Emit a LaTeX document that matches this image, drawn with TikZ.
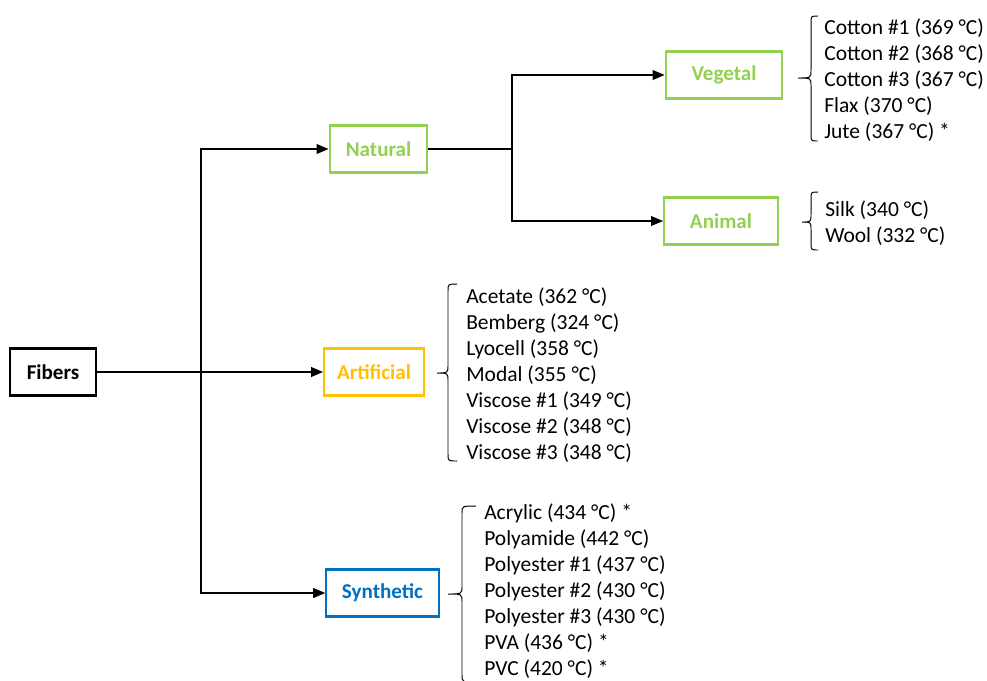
\documentclass[tikz,border=0pt]{standalone}
\usepackage{fontspec}
\setmainfont{Carlito}
\usetikzlibrary{arrows.meta}
\definecolor{natgreen}{RGB}{146,208,80}
\definecolor{artgold}{RGB}{255,192,0}
\definecolor{synblue}{RGB}{0,112,192}
% left brace: x, tip x, end x, top, middle, bottom
\newcommand{\fbrace}[6]{\draw[line width=0.7pt] (#3,#4) .. controls (#1,#4) .. (#1,#4+7) -- (#1,#5-8) .. controls (#1,#5) .. (#2,#5) .. controls (#1,#5) .. (#1,#5+8) -- (#1,#6-7) .. controls (#1,#6) .. (#3,#6);}
\begin{document}
\begin{tikzpicture}[x=0.025cm,y=-0.025cm,
  box/.style={draw,line width=1.5pt,minimum height=33.4pt,inner sep=0pt,font=\fontsize{15}{18}\selectfont\bfseries},
  lst/.style={anchor=west,align=left,inner sep=0pt,font=\fontsize{15.3}{18.4}\selectfont},
  ln/.style={line width=0.8pt},
  arr/.style={ln,-{Triangle[length=8.5pt,width=7pt]}}]
\useasboundingbox (0,0) rectangle (987,680);
\clip (0,0) rectangle (987,680);
\node[box,minimum width=61pt] (fib) at (53,372) {Fibers};
\node[box,natgreen,text=natgreen,minimum width=69.6pt] (nat) at (378.5,149) {Natural};
\node[box,artgold,text=artgold,minimum width=71pt] (art) at (374,372) {Artificial};
\node[box,synblue,text=synblue,minimum width=80pt] (syn) at (382.5,593) {Synthetic};
\node[box,natgreen,text=natgreen,minimum width=83pt] (veg) at (724,75) {Vegetal};
\node[box,natgreen,text=natgreen,minimum width=81pt] (ani) at (721,221) {Animal};
\coordinate (ja) at (201,372);
\coordinate (jb) at (512,149);
\draw[arr] (fib) -- (art);
\draw[arr] (ja) |- (nat);
\draw[arr] (ja) |- (syn);
\draw[ln] (nat) -- (jb);
\draw[arr] (jb) |- (veg);
\draw[arr] (jb) |- (ani);
\node[lst] (vegl) at (824,80) {Cotton \#1 (369 °C)\\Cotton \#2 (368 °C)\\Cotton \#3 (367 °C)\\Flax (370 °C)\\Jute (367 °C) *};
\node[lst] (anil) at (825,223) {Silk (340 °C)\\Wool (332 °C)};
\node[lst] (artl) at (466,375) {Acetate (362 °C)\\Bemberg (324 °C)\\Lyocell (358 °C)\\Modal (355 °C)\\Viscose \#1 (349 °C)\\Viscose \#2 (348 °C)\\Viscose \#3 (348 °C)};
\node[lst] (synl) at (484,591) {Acrylic (434 °C) *\\Polyamide (442 °C)\\Polyester \#1 (437 °C)\\Polyester \#2 (430 °C)\\Polyester \#3 (430 °C)\\PVA (436 °C) *\\PVC (420 °C) *};
\fbrace{811}{798}{818}{16}{78}{141}
\fbrace{811}{802}{818}{192}{222}{250}
\fbrace{448}{437}{457}{284}{373}{461}
\fbrace{462}{448}{476}{506}{594}{682}
\end{tikzpicture}
\end{document}
